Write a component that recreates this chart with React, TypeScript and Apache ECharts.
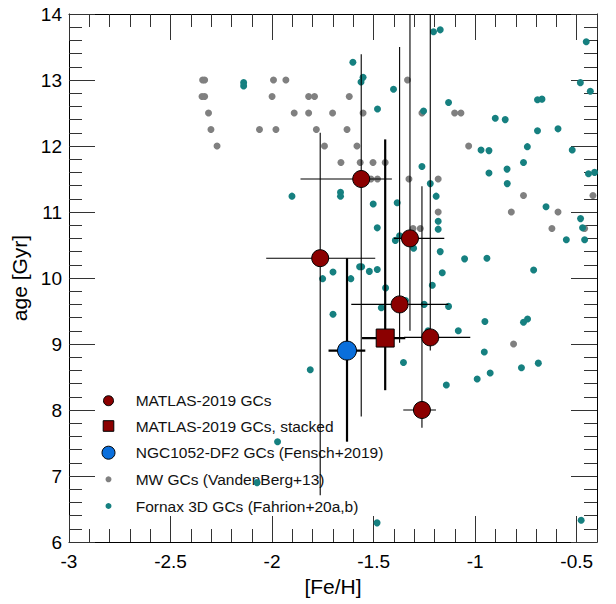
import React, { useEffect, useRef } from "react";
import * as echarts from "echarts";

// ---------- data ----------
// Milky Way GCs (VandenBerg+13)
const mwFeH = [-2.342, -2.332, -2.345, -2.332, -2.313, -2.301, -2.271, -1.993, -1.932, -2.0, -2.062, -1.981, -1.891, -1.82, -1.791, -1.82, -1.702, -1.782, -1.742, -1.62, -1.631, -1.582, -1.552, -1.661, -1.566, -1.503, -1.443, -1.513, -1.481, -1.326, -1.182, -1.182, -1.306, -1.27, -1.333, -1.262, -1.101, -1.07, -1.032, -0.762, -0.822, -0.592, -0.622, -0.461, -0.42, -0.811];
const mwAge = [13.0, 13.0, 12.75, 12.75, 12.5, 12.25, 12.0, 13.0, 13.0, 12.75, 12.25, 12.25, 12.5, 12.75, 12.75, 12.5, 12.5, 12.25, 12.0, 12.75, 12.25, 12.0, 12.5, 11.75, 11.75, 11.75, 11.75, 11.5, 11.5, 11.5, 11.5, 11.0, 10.75, 10.75, 13.0, 12.5, 12.5, 12.5, 12.0, 11.25, 11.0, 11.0, 10.75, 10.75, 11.25, 9.0];

// Fornax 3D GCs (Fahrion+20a,b)
const fornaxFeH = [-1.602, -1.552, -1.562, -2.14, -2.14, -1.402, -1.481, -1.205, -1.172, -0.453, -1.131, -1.254, -0.482, -0.433, -0.693, -0.671, -0.901, -0.852, -0.693, -0.592, -0.971, -0.932, -0.743, -0.522, -1.262, -0.843, -0.762, -1.221, -1.192, -1.902, -1.663, -1.663, -1.502, -1.384, -1.182, -1.182, -1.482, -1.372, -1.393, -1.303, -1.172, -1.569, -1.559, -1.521, -1.482, -1.7, -1.751, -1.612, -1.162, -1.441, -1.211, -1.7, -1.462, -1.343, -1.251, -1.131, -1.083, -1.232, -0.442, -0.412, -0.651, -0.481, -0.471, -0.551, -0.461, -1.052, -0.942, -0.712, -0.952, -0.762, -0.742, -0.932, -0.842, -1.812, -1.353, -1.142, -1.973, -1.483, -2.074, -0.478, -0.955, -0.99, -0.926, -0.772, -0.689];
const fornaxAge = [13.27, 13.04, 12.97, 12.96, 12.91, 12.86, 12.56, 13.73, 13.76, 13.58, 12.66, 12.53, 12.96, 12.83, 12.7, 12.71, 12.42, 12.4, 12.23, 12.26, 11.94, 11.93, 11.99, 11.94, 11.69, 11.65, 11.75, 11.43, 11.24, 11.24, 11.3, 11.24, 11.12, 11.14, 10.86, 10.74, 10.76, 10.64, 10.57, 10.45, 10.4, 10.17, 10.17, 10.1, 10.13, 10.09, 9.99, 9.99, 10.08, 9.85, 9.89, 9.45, 9.55, 9.66, 9.6, 9.57, 9.2, 9.2, 11.58, 11.6, 11.08, 10.9, 10.76, 10.58, 10.58, 10.29, 10.3, 10.12, 9.34, 9.33, 9.38, 11.59, 11.43, 8.61, 8.72, 8.38, 7.52, 6.29, 6.9, 6.33, 8.88, 8.47, 8.56, 8.64, 8.71];

// MATLAS-2019 GCs (individual)
const matlasFeH = [-1.763, -1.561, -1.321, -1.372, -1.221, -1.262];
const matlasAge = [10.3, 11.5, 10.6, 9.6, 9.1, 8.0];
const matlasFeHLo = [-2.029, -1.86, -1.4, -1.61, -1.35, -1.354];
const matlasFeHHi = [-1.492, -1.41, -1.152, -1.132, -1.024, -1.193];
const matlasAgeLo = [6.71, 7.9, 9.2, 9.02, 8.9, 7.73];
const matlasAgeHi = [12.2, 13.39, 14.5, 13.5, 14.5, 11.39];

// MATLAS-2019 GCs, stacked
const stackFeH = [-1.443];
const stackAge = [9.09];
const stackFeHLo = [-1.557];
const stackFeHHi = [-1.344];
const stackAgeLo = [8.3];
const stackAgeHi = [12.1];

// NGC1052-DF2 GCs (Fensch+2019)
const df2FeH = [-1.631];
const df2Age = [8.9];
const df2FeHLo = [-1.722];
const df2FeHHi = [-1.541];
const df2AgeLo = [7.52];
const df2AgeHi = [10.3];

const legendLabels = [
  "MATLAS-2019 GCs",
  "MATLAS-2019 GCs, stacked",
  "NGC1052-DF2 GCs (Fensch+2019)",
  "MW GCs (VandenBerg+13)",
  "Fornax 3D GCs (Fahrion+20a,b)",
];

const X_MIN = -3;
const X_MAX = -0.4;
const Y_MIN = 6;
const Y_MAX = 14;

const RED = "#8b0000";
const BLUE = "#0a6fdc";
const GREY = "#808080";
const TEAL = "#168080";
const FONT = "Liberation Sans";

function zip(a: number[], b: number[]) {
  return a.map((v, i) => [v, b[i]]);
}

function errRows(x: number[], y: number[], xl: number[], xh: number[], yl: number[], yh: number[]) {
  return x.map((v, i) => [v, y[i], xl[i], xh[i], yl[i], yh[i]]);
}

function errRender(lw: number) {
  return (params: any, api: any) => {
    const x = api.value(0);
    const y = api.value(1);
    const xl = Math.max(api.value(2), X_MIN);
    const xh = Math.min(api.value(3), X_MAX);
    const yl = Math.max(api.value(4), Y_MIN);
    const yh = Math.min(api.value(5), Y_MAX);
    const pL = api.coord([xl, y]);
    const pR = api.coord([xh, y]);
    const pB = api.coord([x, yl]);
    const pT = api.coord([x, yh]);
    const st = { stroke: "#000", lineWidth: lw };
    return {
      type: "group",
      children: [
        { type: "line", shape: { x1: pL[0], y1: pL[1], x2: pR[0], y2: pR[1] }, style: st },
        { type: "line", shape: { x1: pB[0], y1: pB[1], x2: pT[0], y2: pT[1] }, style: st },
      ],
    };
  };
}

export default function App() {
  const ref = useRef<HTMLDivElement>(null);
  useEffect(() => {
    if (!ref.current) return;
    const chart = echarts.init(ref.current, undefined, { renderer: "svg" });

    const tickColor = "#333";
    const baseX = {
      type: "value",
      min: X_MIN,
      max: X_MAX,
      splitLine: { show: false },
    };
    const baseY = {
      type: "value",
      min: Y_MIN,
      max: Y_MAX,
      interval: 1,
      splitLine: { show: false },
    };

    const legendRowsY = [400.7, 426, 452.7, 479.3, 506];
    const symX = 108.5;
    const txtX = 135.7;

    chart.setOption({
      animation: false,
      backgroundColor: "#fff",
      textStyle: { fontFamily: FONT },
      grid: { left: 69, right: 19, top: 14, bottom: 62, containLabel: false },
      xAxis: [
        {
          ...baseX,
          position: "bottom",
          interval: 0.5,
          axisLine: { show: true, onZero: false, lineStyle: { color: "#000", width: 1 } },
          axisTick: { show: true, inside: true, length: 26, lineStyle: { color: tickColor } },
          axisLabel: {
            show: true,
            showMaxLabel: false,
            color: "#000",
            fontSize: 19,
            fontFamily: FONT,
            margin: 10,
          },
          name: "[Fe/H]",
          nameLocation: "middle",
          nameGap: 30,
          nameTextStyle: { color: "#000", fontSize: 21, fontFamily: FONT },
        },
        {
          ...baseX,
          position: "bottom",
          interval: 0.1,
          axisLine: { show: false, onZero: false },
          axisTick: { show: true, inside: true, length: 13, lineStyle: { color: tickColor } },
          axisLabel: { show: false },
        },
        {
          ...baseX,
          position: "top",
          interval: 0.5,
          axisLine: { show: true, onZero: false, lineStyle: { color: "#000", width: 1 } },
          axisTick: { show: true, inside: true, length: 26, lineStyle: { color: tickColor } },
          axisLabel: { show: false },
        },
        {
          ...baseX,
          position: "top",
          interval: 0.1,
          axisLine: { show: false, onZero: false },
          axisTick: { show: true, inside: true, length: 13, lineStyle: { color: tickColor } },
          axisLabel: { show: false },
        },
      ],
      yAxis: [
        {
          ...baseY,
          position: "left",
          axisLine: { show: true, onZero: false, lineStyle: { color: "#000", width: 1 } },
          axisTick: { show: true, inside: true, length: 26, lineStyle: { color: tickColor } },
          minorTick: { show: true, splitNumber: 5, length: 13, lineStyle: { color: tickColor } },
          axisLabel: { show: true, color: "#000", fontSize: 19, fontFamily: FONT, margin: 7 },
          name: "age [Gyr]",
          nameLocation: "middle",
          nameGap: 25,
          nameTextStyle: { color: "#000", fontSize: 21, fontFamily: FONT },
        },
        {
          ...baseY,
          position: "right",
          axisLine: { show: true, onZero: false, lineStyle: { color: "#000", width: 1 } },
          axisTick: { show: true, inside: true, length: 26, lineStyle: { color: tickColor } },
          minorTick: { show: true, splitNumber: 5, length: 13, lineStyle: { color: tickColor } },
          axisLabel: { show: false },
        },
      ],
      series: [
        {
          name: legendLabels[3],
          type: "scatter",
          data: zip(mwFeH, mwAge),
          symbol: "circle",
          symbolSize: 7,
          itemStyle: { color: GREY, opacity: 1 },
          z: 2,
        },
        {
          name: legendLabels[4],
          type: "scatter",
          data: zip(fornaxFeH, fornaxAge),
          symbol: "circle",
          symbolSize: 7,
          itemStyle: { color: TEAL, opacity: 1 },
          z: 3,
        },
        {
          name: "err-thin",
          type: "custom",
          renderItem: errRender(1.1),
          data: errRows(matlasFeH, matlasAge, matlasFeHLo, matlasFeHHi, matlasAgeLo, matlasAgeHi),
          encode: { x: 0, y: 1 },
          z: 4,
          silent: true,
        },
        {
          name: "err-thick",
          type: "custom",
          renderItem: errRender(2.2),
          data: [
            ...errRows(stackFeH, stackAge, stackFeHLo, stackFeHHi, stackAgeLo, stackAgeHi),
            ...errRows(df2FeH, df2Age, df2FeHLo, df2FeHHi, df2AgeLo, df2AgeHi),
          ],
          encode: { x: 0, y: 1 },
          z: 4,
          silent: true,
        },
        {
          name: legendLabels[0],
          type: "scatter",
          data: zip(matlasFeH, matlasAge),
          symbol: "circle",
          symbolSize: 17,
          itemStyle: { color: RED, borderColor: "#000", borderWidth: 1, opacity: 1 },
          z: 5,
        },
        {
          name: legendLabels[1],
          type: "scatter",
          data: zip(stackFeH, stackAge),
          symbol: "rect",
          symbolSize: 18,
          itemStyle: { color: RED, borderColor: "#000", borderWidth: 1, opacity: 1 },
          z: 5,
        },
        {
          name: legendLabels[2],
          type: "scatter",
          data: zip(df2FeH, df2Age),
          symbol: "circle",
          symbolSize: 19,
          itemStyle: { color: BLUE, borderColor: "#000", borderWidth: 1, opacity: 1 },
          z: 5,
        },
      ],
      graphic: [
        {
          type: "group",
          z: 100,
          children: [
            { type: "circle", shape: { cx: symX, cy: legendRowsY[0], r: 5 }, style: { fill: RED, stroke: "#000", lineWidth: 1 } },
            { type: "rect", shape: { x: symX - 5.3, y: legendRowsY[1] - 5.3, width: 10.6, height: 10.6 }, style: { fill: RED, stroke: "#000", lineWidth: 1 } },
            { type: "circle", shape: { cx: symX, cy: legendRowsY[2], r: 6.5 }, style: { fill: BLUE, stroke: "#000", lineWidth: 1 } },
            { type: "circle", shape: { cx: symX, cy: legendRowsY[3], r: 3 }, style: { fill: GREY } },
            { type: "circle", shape: { cx: symX, cy: legendRowsY[4], r: 3 }, style: { fill: TEAL } },
            ...legendLabels.map((t, i) => ({
              type: "text",
              x: txtX,
              y: legendRowsY[i],
              style: {
                text: t,
                fill: "#111",
                font: `15.5px "${FONT}"`,
                textVerticalAlign: "middle",
                verticalAlign: "middle",
                align: "left",
              },
            })),
          ],
        },
      ],
    });

    return () => {
      chart.dispose();
    };
  }, []);

  return (
    <div
      ref={ref}
      style={{ position: "absolute", left: 0, top: 0, width: 616, height: 604, background: "#fff" }}
    />
  );
}
